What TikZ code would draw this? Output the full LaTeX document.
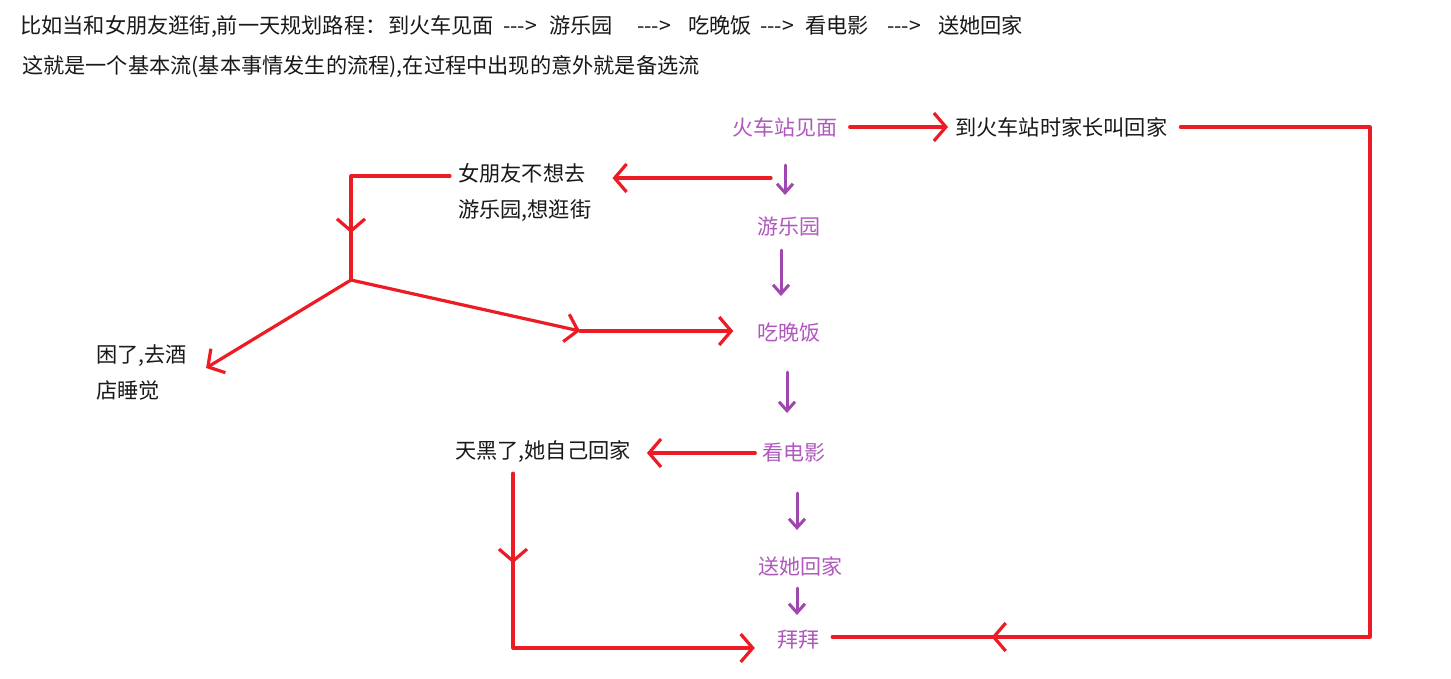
\documentclass[tikz,border=0pt]{standalone}
\usepackage{fontspec}
\setmainfont{Noto Sans CJK SC}
\usetikzlibrary{arrows.meta,decorations.markings,calc}
\definecolor{rd}{RGB}{237,28,36}
\definecolor{pp}{RGB}{160,70,175}
\definecolor{ptxt}{RGB}{176,88,190}
\definecolor{blk}{RGB}{25,25,25}
\tikzset{
  rtip/.tip={Straight Barb[length=12pt,width=28pt]},
  ptip/.tip={Straight Barb[length=9pt,width=16pt]},
}
\begin{document}
\begin{tikzpicture}[x=1pt,y=-1pt,
  txt/.style={inner sep=0pt, text=blk, font=\fontsize{21.2}{36}\selectfont, align=left},
  ptx/.style={inner sep=0pt, text=ptxt, font=\fontsize{21}{24}\selectfont},
  rl/.style={draw=rd, color=rd, line width=3.2pt, line join=round, line cap=round},
  pa/.style={draw=pp, line width=3pt, line cap=round, -{ptip}},
  midtip/.style={postaction={decorate}, decoration={markings, mark=at position #1 with {\arrow{rtip}}}}]
\useasboundingbox (0,0) rectangle (1451,678);
\fill[white] (0,0) rectangle (1451,678);

% titles
\node[txt, anchor=west] (title1) at (20,27) {\makebox[368pt][l]{比如当和女朋友逛街,前一天规划路程：}\makebox[115pt][l]{到火车见面}\makebox[46pt][l]{-\kern0pt-\kern0pt->}\makebox[88pt][l]{游乐园}\makebox[51pt][l]{-\kern0pt-\kern0pt->}\makebox[72pt][l]{吃晚饭}\makebox[45pt][l]{-\kern0pt-\kern0pt->}\makebox[82pt][l]{看电影}\makebox[51pt][l]{-\kern0pt-\kern0pt->}送她回家};
\node[txt, anchor=west] (title2) at (22,67) {这就是一个基本流(基本事情发生的流程),在过程中出现的意外就是备选流};

% main flow
\node[ptx] (meet) at (785,127) {火车站见面};
\node[ptx] (park) at (789,227) {游乐园};
\node[ptx] (dinner) at (789,333) {吃晚饭};
\node[ptx] (movie) at (794,453) {看电影};
\node[ptx] (send) at (800,566) {送她回家};
\node[ptx] (bye) at (798,640) {拜拜};

% alternative texts
\node[txt, anchor=west] (home) at (955,127) {到火车站时家长叫回家};
\node[txt, anchor=west] (gf) at (458,192) {女朋友不想去\\游乐园,想逛街};
\node[txt, anchor=west] (sleep) at (96,372) {困了,去酒\\店睡觉};
\node[txt, anchor=west] (night) at (455,452) {天黑了,她自己回家};

\coordinate (c2) at (1370,637);
\coordinate (s1) at (771,178);
\coordinate (ja) at (351,176);
\coordinate (j) at (351,280);
\coordinate (m) at (580,331);
\coordinate (n1) at (513,648);

% purple arrows
\draw[pa] ($(meet.center)+(0,38)$) -- ($(meet.center |- park.center)+(0,-32)$);
\draw[pa] ($(park.center)+(-8,23)$) -- ($(park.center |- dinner.center)+(-8,-37)$);
\draw[pa] ($(dinner.center)+(-2,39)$) -- ($(dinner.center |- movie.center)+(-2,-40)$);
\draw[pa] ($(movie.center)+(3,40)$) -- ($(movie.center |- send.center)+(3,-36)$);
\draw[pa] ($(send.center)+(-3,22)$) -- ($(send.center |- bye.center)+(-3,-25)$);

% red arrows
\draw[rl, -{rtip}] ([xshift=12pt]meet.east) -- ([xshift=-7pt]home.west);
\draw[rl, midtip=1078pt] ([xshift=13pt]home.east) -| (c2) -- ($(bye.east |- c2)+(13,0)$);
\draw[rl, -{rtip}] (s1) -- ($(gf.east |- s1)+(21,0)$);
\draw[rl, midtip=156pt] ($(gf.west |- ja)+(-8,0)$) -- (ja) -- (j);
\draw[rl, -{rtip}] (j) -- ([xshift=19pt,yshift=4pt]sleep.east);
\draw[rl, -{rtip}] (j) -- (m);
\draw[rl, -{rtip}] (m) -- ($(dinner.west |- m)+(-24,0)$);
\draw[rl, -{rtip}] ([xshift=-7pt]movie.west) -- ($(night.east |- movie.west)+(16,0)$);
\draw[rl, midtip=90pt, -{rtip}] ($(n1 |- night.south)+(0,10)$) -- (n1) -- ($(bye.west |- n1)+(-22,0)$);
\end{tikzpicture}
\end{document}
